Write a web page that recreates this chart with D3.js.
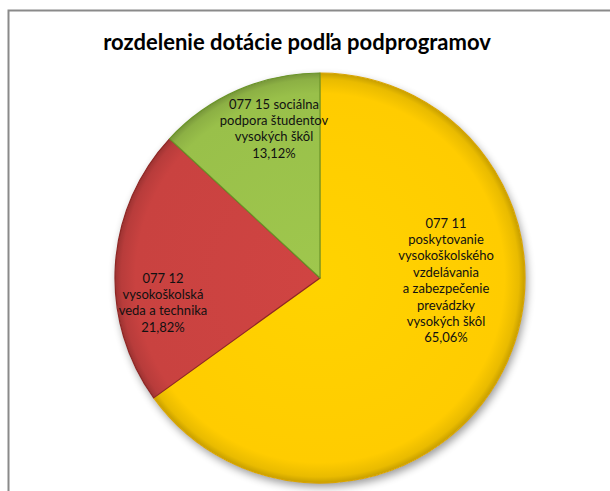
<!DOCTYPE html>
<html>
<head>
<meta charset="utf-8">
<script src="https://cdn.jsdelivr.net/npm/d3@7"></script>
<style>
html,body{margin:0;padding:0;background:#fff;}
svg{display:block;}
</style>
</head>
<body>
<svg id="chart" width="610" height="491"></svg>
<script>
const title = "rozdelenie dotácie podľa podprogramov";
const categories = ["077 11 poskytovanie vysokoškolského vzdelávania a zabezpečenie prevádzky vysokých škôl", "077 12 vysokoškolská veda a technika", "077 15 sociálna podpora študentov vysokých škôl"];
const values = [65.06, 21.82, 13.12];
const labelLines = [
  ["077 11", "poskytovanie", "vysokoškolského", "vzdelávania", "a zabezpečenie", "prevádzky", "vysokých škôl", "65,06%"],
  ["077 12", "vysokoškolská", "veda a technika", "21,82%"],
  ["077 15 sociálna", "podpora študentov", "vysokých škôl", "13,12%"]
];
const colors = ["#FFCC00", "#C94240", "#99C04A"];
const edgeColors = ["#D9A400", "#8E2624", "#6A9428"];

const svg = d3.select("#chart");
const cx = 320, cy = 278, R = 205;

// border
svg.append("rect").attr("x", 8.5).attr("y", 10.5).attr("width", 700).attr("height", 600)
  .attr("fill", "#fff").attr("stroke", "#8a8a8a").attr("stroke-width", 2);

const defs = svg.append("defs");
const filt = defs.append("filter").attr("id", "shadow").attr("x", "-20%").attr("y", "-20%").attr("width", "140%").attr("height", "140%");
filt.append("feGaussianBlur").attr("in", "SourceAlpha").attr("stdDeviation", 4);
filt.append("feOffset").attr("dx", 2).attr("dy", 4).attr("result", "ob");
filt.append("feComponentTransfer").append("feFuncA").attr("type", "linear").attr("slope", 0.4);
const fm = filt.append("feMerge");
fm.append("feMergeNode");
fm.append("feMergeNode").attr("in", "SourceGraphic");

colors.forEach((c, i) => {
  const g = defs.append("radialGradient").attr("id", "g" + i)
    .attr("gradientUnits", "userSpaceOnUse").attr("cx", 0).attr("cy", 0).attr("r", R);
  g.append("stop").attr("offset", "0%").attr("stop-color", d3.color(c).brighter(0.1).formatHex());
  g.append("stop").attr("offset", "90%").attr("stop-color", c);
  g.append("stop").attr("offset", "97%").attr("stop-color", d3.color(c).darker(0.25).formatHex());
  g.append("stop").attr("offset", "100%").attr("stop-color", d3.color(c).darker(0.7).formatHex());
});

const pie = d3.pie().sort(null).value(d => d)(values);
const arc = d3.arc().innerRadius(0).outerRadius(R);

const gPie = svg.append("g").attr("transform", `translate(${cx},${cy})`);
gPie.append("circle").attr("r", R).attr("fill", "#fff").attr("filter", "url(#shadow)");
gPie.selectAll("path.slice").data(pie).enter().append("path")
  .attr("class", "slice")
  .attr("d", arc)
  .attr("fill", (d, i) => `url(#g${i})`)
  .attr("stroke", (d, i) => edgeColors[i])
  .attr("stroke-width", 1.2)
  .attr("stroke-linejoin", "round");

// labels
const labelPos = [[446, 223], [163, 278], [274, 104]];
const lh = 16.4;
const fontFam = "Lato, 'Noto Sans', sans-serif";
labelLines.forEach((lines, i) => {
  const t = svg.append("text")
    .attr("text-anchor", "middle")
    .attr("font-family", fontFam)
    .attr("font-size", 13)
    .attr("fill", "#111");
  lines.forEach((ln, j) => {
    t.append("tspan").attr("x", labelPos[i][0]).attr("y", labelPos[i][1] + j * lh).attr("dy", "0.35em").text(ln);
  });
});

svg.append("text")
  .attr("x", 297).attr("y", 50)
  .attr("text-anchor", "middle")
  .attr("font-family", fontFam)
  .attr("font-weight", "bold")
  .attr("font-size", 22)
  .attr("fill", "#000")
  .text(title);
</script>
</body>
</html>
